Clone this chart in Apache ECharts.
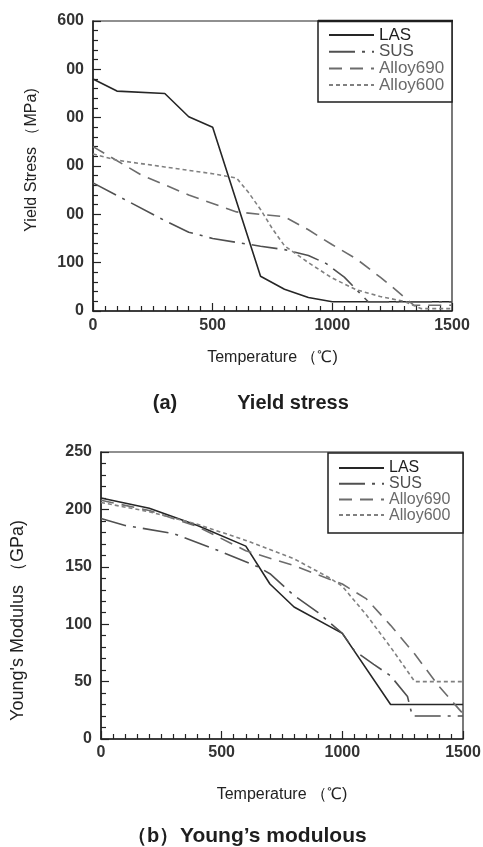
<!DOCTYPE html>
<html>
<head>
<meta charset="utf-8">
<script src="https://cdn.jsdelivr.net/npm/echarts@6/dist/echarts.min.js"></script>
<style>
  html, body { margin: 0; padding: 0; background: #fff; }
  #chart { width: 483px; height: 847px; }
</style>
</head>
<body>
<div id="chart"></div>
<script>
// ---- (a) Yield stress vs temperature (MPa) ----
const lasYieldT   = [0, 100, 300, 400, 500, 700, 800, 900, 1000, 1500];
const lasYield    = [480, 455, 450, 402, 380, 72, 45, 28, 19, 19];
const susYieldT   = [0, 300, 400, 500, 700, 800, 900, 975, 1050, 1150, 1500];
const susYield    = [265, 187, 163, 150, 134, 127, 115, 98, 70, 19, 19];
const a690YieldT  = [0, 200, 400, 600, 800, 900, 1000, 1100, 1200, 1250, 1340, 1500];
const a690Yield   = [340, 282, 240, 205, 195, 168, 137, 108, 70, 50, 12, 12];
const a600YieldT  = [0, 100, 300, 500, 600, 650, 700, 750, 800, 900, 1000, 1100, 1200, 1300, 1370, 1500];
const a600Yield   = [325, 312, 298, 284, 275, 245, 210, 170, 135, 100, 68, 44, 30, 20, 5, 5];

// ---- (b) Young's modulus vs temperature (GPa) ----
const lasModT   = [0, 200, 400, 600, 700, 800, 1000, 1200, 1500];
const lasMod    = [210, 201, 186, 168, 135, 115, 92, 30, 30];
const susModT   = [0, 100, 300, 500, 650, 700, 800, 900, 1000, 1050, 1130, 1200, 1270, 1290, 1500];
const susMod    = [192, 186, 179, 163, 150, 144, 125, 110, 92, 77, 65, 55, 37, 20, 20];
const a690ModT  = [0, 200, 400, 600, 800, 1000, 1100, 1200, 1300, 1400, 1500];
const a690Mod   = [208, 199, 185, 164, 151, 135, 122, 99, 74, 46, 22];
const a600ModT  = [0, 200, 400, 600, 800, 950, 1000, 1100, 1200, 1300, 1500];
const a600Mod   = [206, 198, 187, 173, 157, 140, 133, 108, 80, 50, 50];

// tick labels
const tempTicks  = ['0', '500', '1000', '1500'];
const yieldTicks = ['0', '100', '00', '00', '00', '00', '600'];
const modTicks   = ['0', '50', '100', '150', '200', '250'];

const materials = ['LAS', 'SUS', 'Alloy690', 'Alloy600'];

const FONT = '"Liberation Sans", Arial, sans-serif';

const zip = (xs, ys) => xs.map((x, i) => [x, ys[i]]);

const lineStyles = {
  'LAS':      { color: '#262626', width: 1.6, type: 'solid' },
  'SUS':      { color: '#505050', width: 1.6, type: [26, 7, 3, 7] },
  'Alloy690': { color: '#6c6c6c', width: 1.6, type: [13, 8] },
  'Alloy600': { color: '#808080', width: 1.6, type: [4, 3] }
};

function makeSeries(name, data, idx) {
  return {
    name: name,
    type: 'line',
    xAxisIndex: idx,
    yAxisIndex: idx,
    data: data,
    symbol: 'none',
    smooth: false,
    lineStyle: lineStyles[name],
    itemStyle: { color: lineStyles[name].color },
    z: 2,
    animation: false
  };
}

function tempAxis(gridIndex, nameGap, labelMargin) {
  return {
    type: 'value', gridIndex: gridIndex,
    min: 0, max: 1500, interval: 500,
    name: 'Temperature （℃)', nameLocation: 'middle', nameGap: nameGap,
    nameTextStyle: { fontFamily: FONT, fontSize: 16, color: '#222' },
    axisLine: { show: true, lineStyle: { color: '#222', width: 1.5 } },
    axisTick: { show: true, inside: true, length: 8, lineStyle: { color: '#222', width: 1.2 } },
    minorTick: { show: true, splitNumber: 10, length: 5, lineStyle: { color: '#222', width: 1.2 } },
    splitLine: { show: false },
    minorSplitLine: { show: false },
    axisLabel: {
      margin: labelMargin, fontFamily: FONT, fontSize: 16, color: '#333', fontWeight: 'bold',
      showMinLabel: true, showMaxLabel: true,
      formatter: v => tempTicks[Math.round(v / 500)]
    }
  };
}

function valueAxis(gridIndex, max, interval, labels, name, nameGap, nameSize, namePad) {
  return {
    type: 'value', gridIndex: gridIndex,
    min: 0, max: max, interval: interval,
    name: name, nameLocation: 'middle', nameRotate: 90, nameGap: nameGap,
    nameTextStyle: { fontFamily: FONT, fontSize: nameSize, color: '#222', padding: namePad },
    axisLine: { show: true, lineStyle: { color: '#222', width: 1.5 } },
    axisTick: { show: true, inside: true, length: 8, lineStyle: { color: '#222', width: 1.2 } },
    minorTick: { show: true, splitNumber: 5, length: 5, lineStyle: { color: '#222', width: 1.2 } },
    splitLine: { show: false },
    minorSplitLine: { show: false },
    axisLabel: {
      margin: 9, fontFamily: FONT, fontSize: 16, color: '#333', fontWeight: 'bold',
      showMinLabel: true, showMaxLabel: true,
      formatter: v => labels[Math.round(v / interval)]
    }
  };
}

const legendText = {
  'LAS': '#1e1e1e', 'SUS': '#505050', 'Alloy690': '#6a6a6a', 'Alloy600': '#6a6a6a'
};

function makeLegend(left, top, gap, size) {
  return {
    orient: 'vertical', left: left, top: top,
    itemWidth: 45, itemHeight: 12, itemGap: gap, padding: 0,
    selectedMode: false, z: 6,
    itemStyle: { opacity: 0 },
    textStyle: { fontFamily: FONT, fontSize: size },
    data: materials.map(m => ({ name: m, textStyle: { color: legendText[m] } }))
  };
}

const chart = echarts.init(document.getElementById('chart'), null, { renderer: 'canvas' });

chart.setOption({
  backgroundColor: '#fff',
  animation: false,
  grid: [
    { left: 93, top: 21, width: 359, height: 290, show: true, borderColor: '#222', borderWidth: 1.2, outerBoundsMode: 'none', containLabel: false },
    { left: 101, top: 452, width: 362, height: 287, show: true, borderColor: '#222', borderWidth: 1.2, outerBoundsMode: 'none', containLabel: false }
  ],
  xAxis: [ tempAxis(0, 39, 7), tempAxis(1, 48, 6) ],
  yAxis: [
    valueAxis(0, 600, 100, yieldTicks, 'Yield Stress （MPa)', 53, 16, [0, 0, 0, 12]),
    valueAxis(1, 250, 50, modTicks, 'Young\'s Modulus （GPa)', 74, 18, [0, 50, 0, 0])
  ],
  legend: [ makeLegend(328, 26.5, -0.3, 17), makeLegend(338, 460, -0.3, 16) ],
  graphic: [
    // legend frames
    { type: 'rect', z: 3, shape: { x: 318, y: 21, width: 134, height: 81 },
      style: { fill: '#fff', stroke: '#1e1e1e', lineWidth: 1.5 } },
    { type: 'line', z: 3, shape: { x1: 318, y1: 21, x2: 453, y2: 21 },
      style: { stroke: '#1e1e1e', lineWidth: 2.5 } },
    { type: 'rect', z: 3, shape: { x: 328, y: 453, width: 135, height: 80 },
      style: { fill: '#fff', stroke: '#1e1e1e', lineWidth: 1.5 } },
    // captions
    { type: 'text', z: 5, style: { text: '(a)', x: 165, y: 403, align: 'center', verticalAlign: 'middle',
      fontFamily: FONT, fontSize: 20, fontWeight: 'bold', fill: '#1e1e1e' } },
    { type: 'text', z: 5, style: { text: 'Yield stress', x: 293, y: 403, align: 'center', verticalAlign: 'middle',
      fontFamily: FONT, fontSize: 20, fontWeight: 'bold', fill: '#1e1e1e' } },
    { type: 'text', z: 5, style: { text: '（b）', x: 153, y: 836, align: 'center', verticalAlign: 'middle',
      fontFamily: FONT, fontSize: 20, fontWeight: 'bold', fill: '#1e1e1e' } },
    { type: 'text', z: 5, style: { text: 'Young\u2019s modulous', x: 180, y: 836, align: 'left', verticalAlign: 'middle',
      fontFamily: FONT, fontSize: 21, fontWeight: 'bold', fill: '#1e1e1e' } }
  ],
  series: [
    makeSeries('LAS', zip(lasYieldT, lasYield), 0),
    makeSeries('SUS', zip(susYieldT, susYield), 0),
    makeSeries('Alloy690', zip(a690YieldT, a690Yield), 0),
    makeSeries('Alloy600', zip(a600YieldT, a600Yield), 0),
    makeSeries('LAS', zip(lasModT, lasMod), 1),
    makeSeries('SUS', zip(susModT, susMod), 1),
    makeSeries('Alloy690', zip(a690ModT, a690Mod), 1),
    makeSeries('Alloy600', zip(a600ModT, a600Mod), 1)
  ]
});
</script>
</body>
</html>
